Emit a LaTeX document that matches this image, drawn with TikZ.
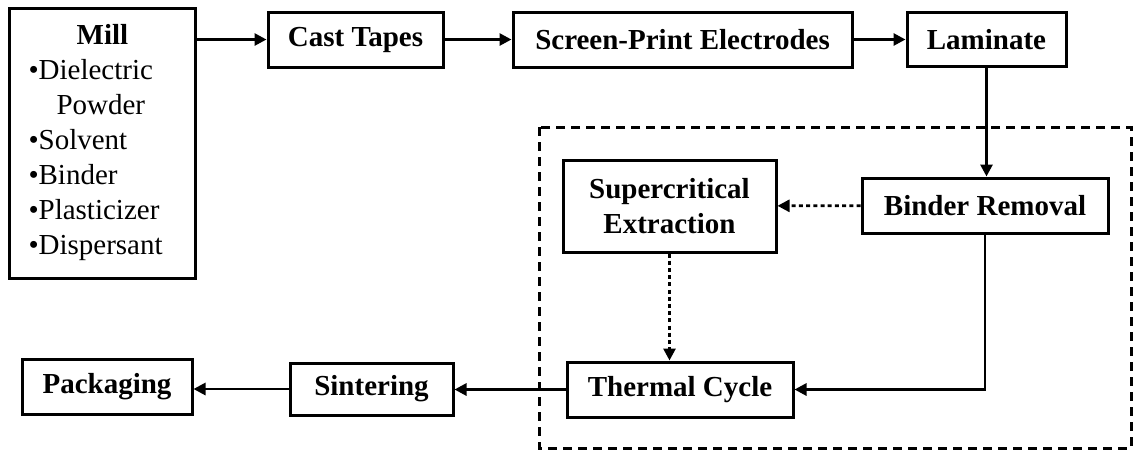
\documentclass[tikz,border=0pt]{standalone}
\usepackage{fontspec}
\setmainfont{Liberation Serif}
\usetikzlibrary{arrows.meta,positioning,calc}

\newcommand{\diagfont}{\fontsize{14.5}{17.5}\selectfont}

\tikzset{
  procbox/.style={draw, line width=1.5pt, font=\diagfont\bfseries, inner sep=0pt, align=center},
  flow/.style={-{Triangle[length=6pt,width=6pt]}, line width=1.4pt},
  dotflow/.style={flow, dash pattern=on 2pt off 1.6pt},
}

\begin{document}
\begin{tikzpicture}[x=0.5pt,y=-0.5pt,font=\diagfont]
  \useasboundingbox (0,0) rectangle (1135,451);

  % binder removal stage
  \draw[line width=1.5pt, dash pattern=on 4.5pt off 3pt] (539,127) rectangle (1131,448);

  % top row
  \node[draw, line width=1.5pt, text width=74pt, inner xsep=9.5pt, minimum height=135pt, align=left] (mill) at (102.5,143)
    {\makebox[\linewidth]{\bfseries Mill}\\
     \textbullet Dielectric\\
     \hspace*{14pt}Powder\\
     \textbullet Solvent\\
     \textbullet Binder\\
     \textbullet Plasticizer\\
     \textbullet Dispersant};
  \node[procbox, minimum width=87.5pt, minimum height=27.5pt] (cast) at (355.5,39.5) {Cast Tapes};
  \node[procbox, minimum width=169.5pt, minimum height=27.5pt] (screen) at (682.5,39.5) {Screen-Print Electrodes};
  \node[procbox, minimum width=79.5pt, minimum height=27pt] (lam) at (986.5,39.5) {Laminate};

  % inside the dashed box
  \node[procbox, minimum width=123pt, minimum height=27.5pt] (binder) at (985,205.5) {Binder Removal};
  \node[procbox, minimum width=106.5pt, minimum height=46pt] (super) at (669.5,206) {Supercritical\\ Extraction};
  \node[procbox, minimum width=113pt, minimum height=27.5pt] (thermal) at (680,389.5) {Thermal Cycle};

  % bottom row
  \node[procbox, minimum width=81.5pt, minimum height=26pt] (sinter) at (371.5,389) {Sintering};
  \node[procbox, minimum width=85pt, minimum height=27.5pt] (pack) at (107,386.5) {Packaging};

  % connectors
  \draw[flow] (cast.west -| mill.east) -- (cast.west);
  \draw[flow] (cast) -- (screen);
  \draw[flow] (screen) -- (lam);
  \draw[flow] (lam) -- (lam |- binder.north);
  \draw[dotflow] (binder) -- (super);
  \draw[dotflow] (super.south) -- (super.south |- thermal.north);
  \draw[flow] (binder.south) |- (thermal.east);
  \draw[flow] (thermal.west) -- (thermal.west -| sinter.east);
  \draw[flow] (sinter.west) -- (sinter.west -| pack.east);
\end{tikzpicture}
\end{document}
